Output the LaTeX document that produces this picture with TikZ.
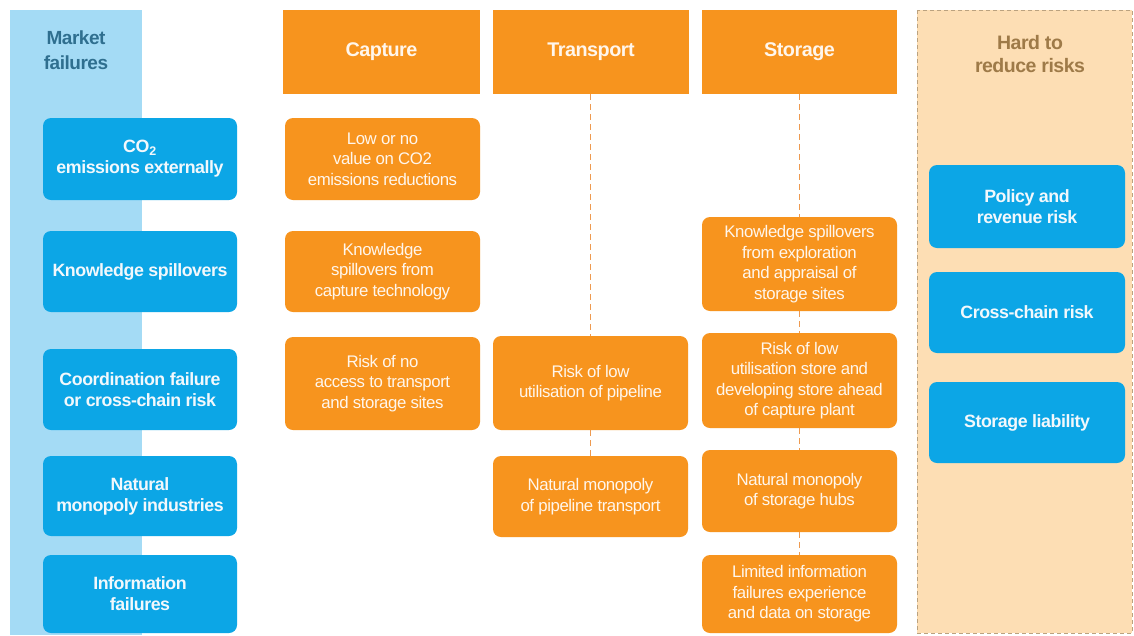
\documentclass[tikz,border=0pt]{standalone}
\usepackage{fontspec}
\setmainfont{Liberation Sans}[LetterSpace=-2.5]
\usetikzlibrary{positioning}
\definecolor{mblue}{HTML}{0CA6E6}
\definecolor{lblue}{HTML}{A4DBF5}
\definecolor{orng}{HTML}{F7941E}
\definecolor{peach}{HTML}{FDDEB4}
\definecolor{teal}{HTML}{2F6F8F}
\definecolor{brown}{HTML}{9E7A48}
\definecolor{dashc}{HTML}{EE9A50}
\definecolor{wtxt}{HTML}{F2F8FC}
\definecolor{otxt}{HTML}{FFF6EC}
\tikzset{
  bbox/.style={fill=mblue, rounded corners=8pt, inner sep=0pt, outer sep=0pt, align=center,
    text=wtxt, font=\fontsize{17.8}{21}\selectfont\bfseries},
  obox/.style={fill=orng, rounded corners=8pt, inner sep=0pt, outer sep=0pt, align=center,
    text=otxt, font=\fontsize{16.8}{20.5}\selectfont},
  hbox/.style={fill=orng, inner sep=0pt, outer sep=0pt, align=center,
    text=otxt, font=\fontsize{19.8}{22}\selectfont\bfseries},
  dline/.style={draw=dashc, line width=0.8pt, dash pattern=on 6pt off 4pt},
}
\begin{document}
\begin{tikzpicture}[x=1pt,y=-1pt]
\useasboundingbox (0,0) rectangle (1134,635);
\fill[white] (0,0) rectangle (1134,635);
% panels
\fill[lblue] (10,10) rectangle (142,635);
\fill[peach] (917,10) rectangle (1132,633);
\draw[brown!70, line width=0.6pt, dash pattern=on 4pt off 3pt] (917,10) rectangle (1132,633);
\node[text=teal, align=center, font=\fontsize{19}{25}\selectfont\bfseries] (mf) at (76,50) {Market\\failures};
\node[text=brown, align=center, font=\fontsize{19.5}{23.5}\selectfont\bfseries] (hr) at (1030,54) {Hard to\\reduce risks};
% left blue boxes
\node[bbox, minimum width=194pt, minimum height=82pt] (m1) at (140,159) {CO\textsubscript{2}\\emissions externally};
\node[bbox, minimum width=194pt, minimum height=81pt] (m2) at (140,271.5) {Knowledge spillovers};
\node[bbox, minimum width=194pt, minimum height=81pt] (m3) at (140,389.5) {Coordination failure\\or cross-chain risk};
\node[bbox, minimum width=194pt, minimum height=80pt] (m4) at (140,496) {Natural\\monopoly industries};
\node[bbox, minimum width=194pt, minimum height=78pt] (m5) at (140,594) {Information\\failures};
% headers
\node[hbox, minimum width=197pt, minimum height=84pt] (capH) at (381.5,52) {Capture};
\node[hbox, minimum width=196pt, minimum height=84pt] (traH) at (591,52) {Transport};
\node[hbox, minimum width=195pt, minimum height=84pt] (stoH) at (799.5,52) {Storage};
% capture
\node[obox, minimum width=195pt, minimum height=82pt] (c1) at (382.5,159) {Low or no\\value on CO2\\emissions reductions};
\node[obox, minimum width=195pt, minimum height=81pt] (c2) at (382.5,271.5) {Knowledge\\spillovers from\\capture technology};
\node[obox, minimum width=195pt, minimum height=93pt] (c3) at (382.5,383.5) {Risk of no\\access to transport\\and storage sites};
% transport
\node[obox, minimum width=195pt, minimum height=94pt] (t1) at (590.5,383) {Risk of low\\utilisation of pipeline};
\node[obox, minimum width=195pt, minimum height=81pt] (t2) at (590.5,496.5) {Natural monopoly\\of pipeline transport};
% storage
\node[obox, minimum width=195pt, minimum height=94pt] (s1) at (799.5,264) {Knowledge spillovers\\from exploration\\and appraisal of\\storage sites};
\node[obox, minimum width=195pt, minimum height=95pt] (s2) at (799.5,380.5) {Risk of low\\utilisation store and\\developing store ahead\\of capture plant};
\node[obox, minimum width=195pt, minimum height=82pt] (s3) at (799.5,491) {Natural monopoly\\of storage hubs};
\node[obox, minimum width=195pt, minimum height=78pt] (s4) at (799.5,594) {Limited information\\failures experience\\and data on storage};
% right blue boxes
\node[bbox, minimum width=196pt, minimum height=83pt] (r1) at (1027,206.5) {Policy and\\revenue risk};
\node[bbox, minimum width=196pt, minimum height=81pt] (r2) at (1027,312.5) {Cross-chain risk};
\node[bbox, minimum width=196pt, minimum height=81pt] (r3) at (1027,422.5) {Storage liability};
% dashed connectors
\draw[dline] (t1.north |- traH.south) -- (t1.north);
\draw[dline] (t1.south) -- (t2.north);
\draw[dline] (s1.north |- stoH.south) -- (s1.north);
\draw[dline] (s1.south) -- (s2.north);
\draw[dline] (s2.south) -- (s3.north);
\draw[dline] (s3.south) -- (s4.north);
\end{tikzpicture}
\end{document}
